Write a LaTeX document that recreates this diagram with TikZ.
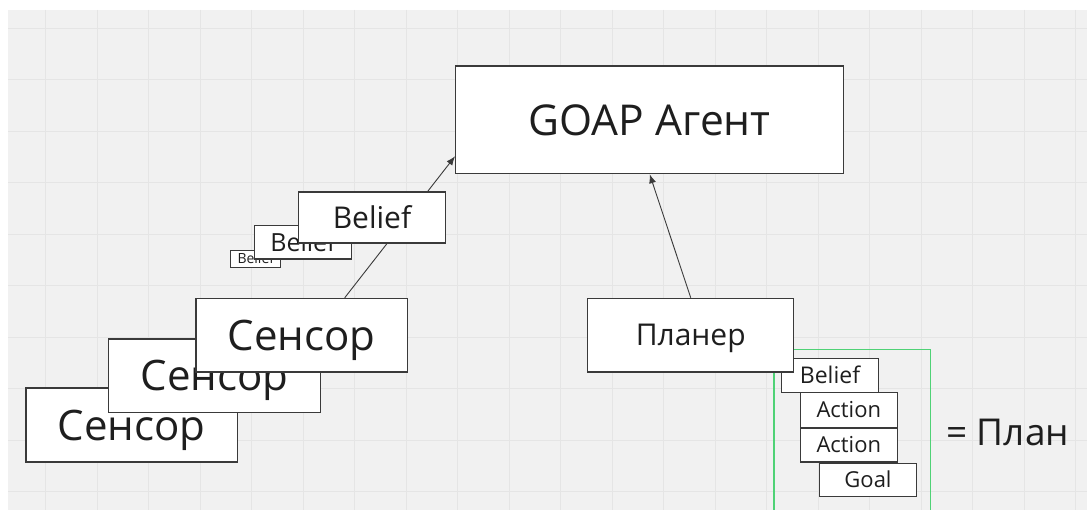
\documentclass[tikz,border=0pt]{standalone}
\usepackage{fontspec}
\setmainfont{Open Sans}
\usetikzlibrary{arrows.meta}
\definecolor{gridbg}{HTML}{F1F1F1}
\definecolor{gridln}{HTML}{E5E5E5}
\definecolor{rand}{HTML}{3A3A3A}
\definecolor{tekst}{HTML}{1E1E1E}
\definecolor{plangroen}{HTML}{4FD276}
\tikzset{
 blok/.style={draw=rand,line width=1.3pt,fill=white,inner sep=0pt,text=tekst},
 maat/.style={font=\fontsize{#1}{#1}\selectfont,text height=0.72*#1,text depth=0},
 pijl/.style={draw=rand,line width=0.9pt,-{Latex[length=9pt,width=7pt]}},
}

\begin{document}
\begin{tikzpicture}[x=1pt,y=-1pt]
\useasboundingbox (0,0) rectangle (1087,510);
% background and grid
\fill[white] (0,0) rectangle (1087,510);
\fill[gridbg] (8,10) rectangle (1087,510);
\foreach \gx in {45.7,97.2,...,1087} \draw[gridln,line width=1.2pt] (\gx,10)--(\gx,510);
\foreach \gy in {28.3,79.8,...,510} \draw[gridln,line width=1.2pt] (8,\gy)--(1087,\gy);
% plan frame
\draw[plangroen,line width=1.2pt] (774,520)--(774,349.5)--(930.7,349.5)--(930.7,520);
% sensors
\node[blok,maat=42,minimum width=211.5pt,minimum height=74pt] (senC) at (131.8,425) {Сенсор};
\node[blok,maat=42,minimum width=212pt,minimum height=73.5pt] (senB) at (214.7,375.7) {Сенсор};
\node[blok,maat=42,minimum width=211.5pt,minimum height=73.5pt] (senA) at (301.7,335.2) {Сенсор};
% agent
\node[blok,maat=42.5,minimum width=388pt,minimum height=107.6pt] (goap) at (649.7,119.8) {GOAP Агент};
% plan
\node[blok,maat=23,minimum width=97.4pt,minimum height=34pt] (pbel) at (830,375.3) {Belief};
\node[blok,maat=22,minimum width=97pt,minimum height=34.6pt] (pact1) at (848.8,410) {Action};
\node[blok,maat=22,minimum width=97pt,minimum height=34pt] (pact2) at (848.8,445) {Action};
\node[blok,maat=22,minimum width=97.4pt,minimum height=33pt] (pgoal) at (868,479.8) {Goal};
\node[anchor=base west,inner sep=0pt,text=tekst,font=\fontsize{37}{42}\selectfont] (plan) at (946,445) {= План};
% planner
\node[blok,maat=30,minimum width=206pt,minimum height=73.7pt] (planer) at (690.7,335.2) {Планер};
% arrows
\draw[pijl] ([xshift=43pt]senA.north) -- ([yshift=-36.5pt]goap.west);
\draw[pijl] (planer.north) -- (goap.south);
% beliefs
\node[blok,maat=14,minimum width=49.7pt,minimum height=17.3pt,line width=1pt] (bel3) at (255.8,258.7) {Belief};
\node[blok,maat=25,minimum width=97.4pt,minimum height=33.7pt] (bel2) at (303,242.2) {Belief};
\node[blok,maat=30,minimum width=146.6pt,minimum height=51pt] (bel1) at (372,217.5) {Belief};
\end{tikzpicture}
\end{document}
